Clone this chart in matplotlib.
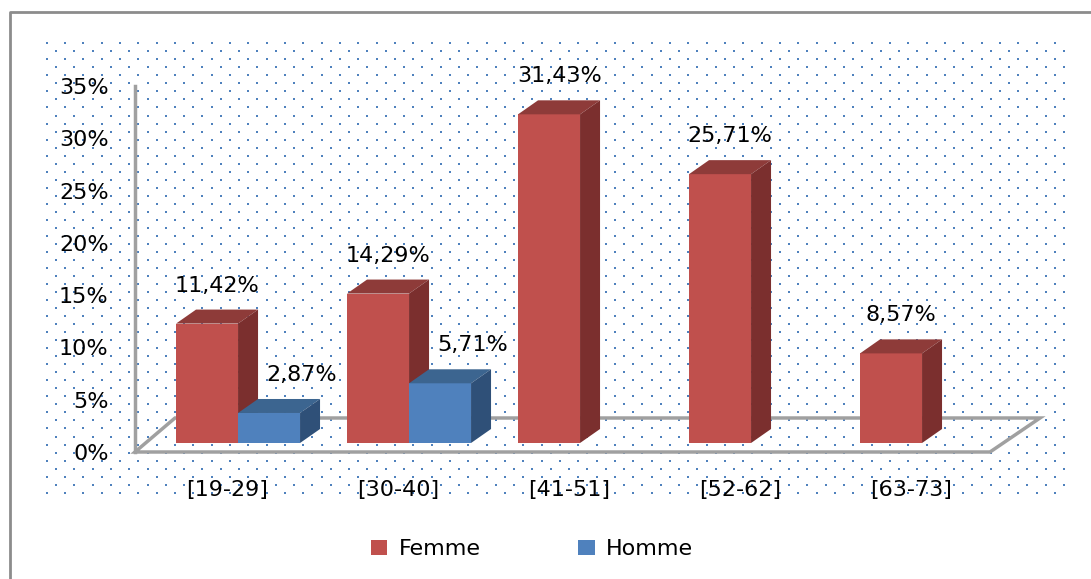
import numpy as np
import matplotlib.pyplot as plt
from matplotlib.patches import Polygon, Patch

# donnees
categories = ['[19-29]', '[30-40]', '[41-51]', '[52-62]', '[63-73]']
femme = [11.42, 14.29, 31.43, 25.71, 8.57]
homme = [2.87, 5.71, 0, 0, 0]
labels_femme = ['11,42%', '14,29%', '31,43%', '25,71%', '8,57%']
labels_homme = ['2,87%', '5,71%', '', '', '']
yticks = [0, 5, 10, 15, 20, 25, 30, 35]

# couleurs (front, top, side)
col_femme = ('#C0504D', '#8E3B39', '#7B2F2E')
col_homme = ('#4F81BD', '#3C6590', '#2F5078')

W, H = 1091, 579
fig = plt.figure(figsize=(W / 100, H / 100), dpi=100)
fig.patch.set_facecolor('white')

# fond : cadre + motif pointille
bg = fig.add_axes([0, 0, 1, 1])
bg.set_xlim(0, W)
bg.set_ylim(H, 0)
bg.axis('off')
bg.plot([10, 10, W], [H, 12, 12], color='#8c8c8c', lw=2)
rows = np.arange(43.3, 494, 8.025)
for k, yy in enumerate(rows):
    xs = np.arange(46.7 + (k % 2) * 9.15, 1071, 18.33)
    bg.scatter(xs, np.full_like(xs, yy), marker='s', s=3.6, color='#4f81bd', linewidths=0)

# axe principal (pixels -> donnees)
x0, x1 = 135, 990
ytop, ybot = 86, 452
ax = fig.add_axes([x0 / W, (H - ybot) / H, (x1 - x0) / W, (ybot - ytop) / H])
ax.set_xlim(-0.54, 4.46)
ax.set_ylim(0, 35)
ax.patch.set_visible(False)
for s in ['top', 'right', 'bottom']:
    ax.spines[s].set_visible(False)
ax.spines['left'].set_color('#a0a0a0')
ax.spines['left'].set_linewidth(2.5)

ux = 171.0          # px par categorie
uy = (ybot - ytop) / 35.0   # px par %

# sol en perspective
fdy = 34 / uy
floor = Polygon([(-0.54, 0), (4.46, 0), (4.46 + 50 / ux, fdy), (-0.54 + 40 / ux, fdy)],
                closed=True, fill=False, edgecolor='#a0a0a0', lw=2.5, clip_on=False, zorder=1)
ax.add_patch(floor)

# barres 3D
w = 62 / ux
z0 = 9 / uy
dx, dy = 20 / ux, 14 / uy
lab_off = 38 / uy
fs = 16

def bar3d(left, v, cols, label, xoff):
    if v <= 0:
        return
    ax.bar(left, v, width=w, bottom=z0, align='edge', color=cols[0], zorder=3,
           edgecolor='none', clip_on=False)
    top = z0 + v
    ax.add_patch(Polygon([(left, top), (left + w, top), (left + w + dx, top + dy), (left + dx, top + dy)],
                         closed=True, facecolor=cols[1], edgecolor='none', zorder=3, clip_on=False))
    ax.add_patch(Polygon([(left + w, z0), (left + w + dx, z0 + dy), (left + w + dx, top + dy), (left + w, top)],
                         closed=True, facecolor=cols[2], edgecolor='none', zorder=3, clip_on=False))
    ax.text(left + w / 2 + xoff, top + lab_off, label, ha='center', va='center',
            fontsize=fs, color='black', zorder=5, clip_on=False)

for i in range(len(categories)):
    lf = i - 0.300
    bar3d(lf, femme[i], col_femme, labels_femme[i], 0.06)
    bar3d(lf + w, homme[i], col_homme, labels_homme[i], 0.19)

ax.set_yticks(yticks)
ax.set_yticklabels([f'{v}%' for v in yticks])
ax.set_xticks(range(len(categories)))
ax.set_xticklabels(categories)
ax.tick_params(axis='y', length=0, pad=19, labelsize=fs)
ax.tick_params(axis='x', length=0, pad=20, labelsize=fs)

handles = [Patch(facecolor=col_femme[0], label='Femme'), Patch(facecolor=col_homme[0], label='Homme')]
fig.legend(handles=handles, loc='center', bbox_to_anchor=(532 / W, 1 - 549 / H), ncol=2,
           frameon=False, fontsize=fs, handlelength=0.75, handleheight=0.65,
           handletextpad=0.5, columnspacing=4.4)

plt.savefig('out.png', dpi=100, facecolor='white')
